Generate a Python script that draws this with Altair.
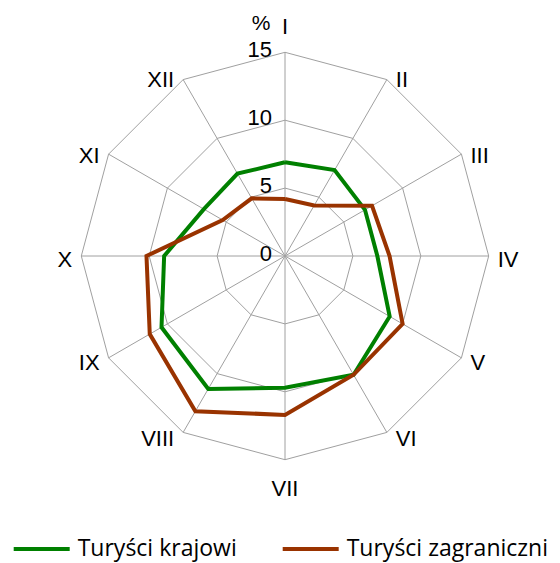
import altair as alt
import pandas as pd

# ---- data ----
months = ["I", "II", "III", "IV", "V", "VI", "VII", "VIII", "IX", "X", "XI", "XII"]
krajowi = [6.9, 7.3, 6.8, 6.8, 8.9, 10.1, 9.7, 11.3, 10.5, 8.9, 6.9, 7.0]
zagraniczni = [4.2, 4.3, 7.4, 7.7, 10.0, 10.1, 11.7, 13.2, 11.5, 10.2, 5.3, 4.9]
series_names = ["Turyści krajowi", "Turyści zagraniczni"]
series_colors = ["#008000", "#993300"]
ticks = [0, 5, 10, 15]
unit_label = "%"

# ---- layout ----
W, H = 540, 537
K = 203.7 / 15.0          # px per unit
CX, CY = 277, 248         # centre inside the view
xs = alt.Scale(domain=[-CX / K, (W - CX) / K], nice=False, zero=False)
ys = alt.Scale(domain=[-(H - CY) / K, CY / K], nice=False, zero=False)
RMAX = ticks[-1]
N = len(months)

# ---- tables built from the lists ----
rows = []
for name, vals in zip(series_names, [krajowi, zagraniczni]):
    for i in range(N + 1):
        rows.append({"series": name, "idx": i, "month": months[i % N], "value": vals[i % N]})
series_df = pd.DataFrame(rows)

ring_rows = []
for r in ticks[1:]:
    for i in range(N + 1):
        ring_rows.append({"r": r, "idx": i})
ring_df = pd.DataFrame(ring_rows)

month_df = pd.DataFrame({"idx": list(range(N)), "month": months})
tick_df = pd.DataFrame({"t": ticks, "lab": [str(t) for t in ticks]})

theta = f"datum.idx * 2 * PI / {N}"

grid_color = "#a0a0a0"

rings = alt.Chart(ring_df).transform_calculate(
    theta=theta,
    px="datum.r * sin(datum.theta)",
    py="datum.r * cos(datum.theta)",
).mark_line(stroke=grid_color, strokeWidth=1).encode(
    x=alt.X("px:Q", scale=xs, axis=None),
    y=alt.Y("py:Q", scale=ys, axis=None),
    detail="r:N",
    order="idx:Q",
)

spokes = alt.Chart(month_df).transform_calculate(
    theta=theta,
    x0="0",
    y0="0",
    x1=f"{RMAX} * sin(datum.theta)",
    y1=f"{RMAX} * cos(datum.theta)",
).mark_rule(stroke=grid_color, strokeWidth=1).encode(
    x=alt.X("x0:Q", scale=xs, axis=None),
    y=alt.Y("y0:Q", scale=ys, axis=None),
    x2="x1:Q",
    y2="y1:Q",
)

lines = alt.Chart(series_df).transform_calculate(
    theta=theta,
    px="datum.value * sin(datum.theta)",
    py="datum.value * cos(datum.theta)",
).mark_line(strokeWidth=4, strokeJoin="miter").encode(
    x=alt.X("px:Q", scale=xs, axis=None),
    y=alt.Y("py:Q", scale=ys, axis=None),
    color=alt.Color(
        "series:N",
        sort=series_names,
        scale=alt.Scale(domain=series_names, range=series_colors),
        legend=alt.Legend(
            orient="none",
            legendX=3.7,
            legendY=511,
            direction="horizontal",
            title=None,
            symbolType="stroke",
            symbolSize=3136,
            symbolStrokeWidth=4,
            labelFont="Open Sans",
            labelFontSize=23,
            labelColor="#000000",
            labelOffset=6,
            columnPadding=38,
            labelLimit=400,
        ),
    ),
    order="idx:Q",
    detail="series:N",
)

tick_labels = alt.Chart(tick_df).transform_calculate(
    x0="0"
).mark_text(align="right", baseline="middle", dx=-13, dy=-2,
            font="Liberation Sans", fontSize=22, color="#000000").encode(
    x=alt.X("x0:Q", scale=xs, axis=None),
    y=alt.Y("t:Q", scale=ys, axis=None),
    text="lab:N",
)

pct = alt.Chart(pd.DataFrame({"lab": [unit_label], "t": [RMAX]})).transform_calculate(
    x0="0"
).mark_text(align="center", baseline="middle", dx=-24, dy=-28,
            font="Liberation Sans", fontSize=21, color="#000000").encode(
    x=alt.X("x0:Q", scale=xs, axis=None),
    y=alt.Y("t:Q", scale=ys, axis=None),
    text="lab:N",
)

def month_layer(filter_expr, align):
    return alt.Chart(month_df).transform_calculate(
        theta=theta,
        side="(datum.idx > 0 && datum.idx < 6) ? 1 : ((datum.idx > 6) ? -1 : 0)",
        dypx="datum.idx == 0 ? -25 : (datum.idx == 6 ? 29 : 3.5 * (1 - cos(datum.theta)))",
        lx=f"{RMAX} * sin(datum.theta) + datum.side * 9 / {K}",
        ly=f"{RMAX} * cos(datum.theta) - datum.dypx / {K}",
    ).transform_filter(filter_expr).mark_text(
        align=align, baseline="middle", font="Liberation Sans", fontSize=22, color="#000000"
    ).encode(
        x=alt.X("lx:Q", scale=xs, axis=None),
        y=alt.Y("ly:Q", scale=ys, axis=None),
        text="month:N",
    )

labels_right = month_layer("datum.side == 1", "left")
labels_left = month_layer("datum.side == -1", "right")
labels_center = month_layer("datum.side == 0", "center")

chart = alt.layer(
    rings, spokes, lines, tick_labels, pct, labels_right, labels_left, labels_center
).properties(
    width=W,
    height=H,
    autosize=alt.AutoSizeParams(type="none"),
    padding={"left": 0, "top": 0, "right": 4, "bottom": 18},
).configure_view(stroke=None)

chart.save("out.html", embed_options={"renderer": "svg", "actions": False})
